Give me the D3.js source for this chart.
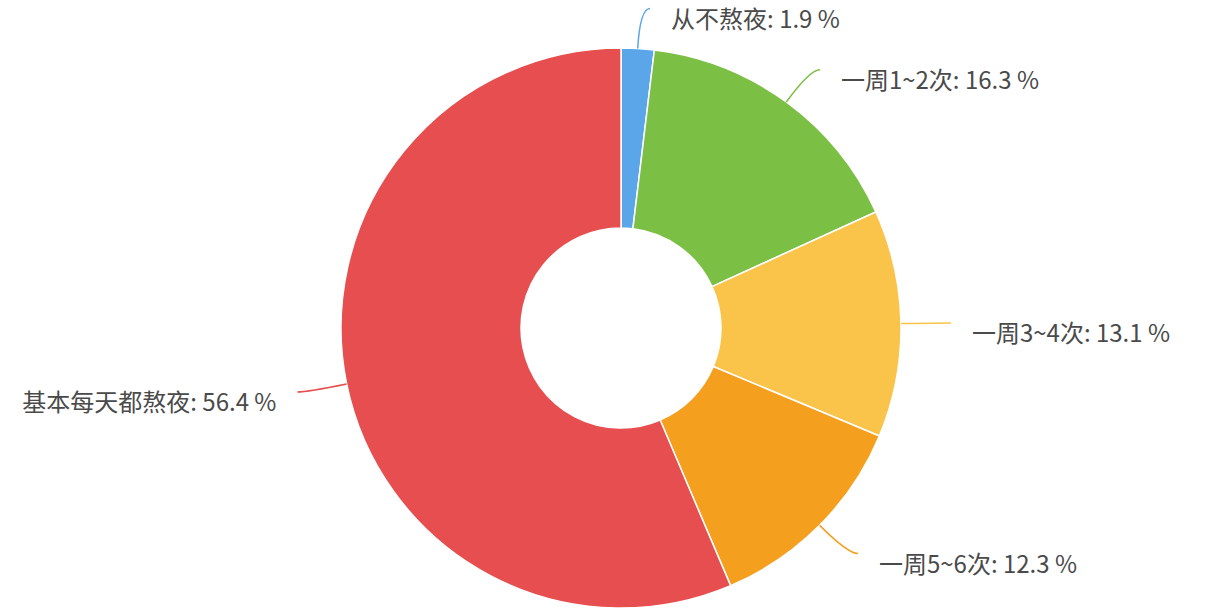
<!DOCTYPE html>
<html>
<head>
<meta charset="utf-8">
<script src="https://cdn.jsdelivr.net/npm/d3@7/dist/d3.min.js"></script>
<style>
  html, body { margin: 0; padding: 0; background: #fff; }
  svg { display: block; }
  text { font-family: "Noto Sans CJK SC", "Noto Sans", sans-serif; }
</style>
</head>
<body>
<svg id="chart" width="1207" height="609"></svg>
<script>
const categories = ["从不熬夜", "一周1~2次", "一周3~4次", "一周5~6次", "基本每天都熬夜"];
const values = [1.9, 16.3, 13.1, 12.3, 56.4];
const colors = ["#5aa6e8", "#7cbf45", "#f9c449", "#f59f1f", "#e64e4f"];

const width = 1207, height = 609;
const cx = 621, cy = 328, outerR = 280, innerR = 100, labelDist = 40;

const svg = d3.select("#chart");
const g = svg.append("g").attr("transform", `translate(${cx},${cy})`);

const data = categories.map((c, i) => ({ name: c, value: values[i], color: colors[i] }));
const pie = d3.pie().value(d => d.value).sort(null).startAngle(0).endAngle(2 * Math.PI);
const arcs = pie(data);
const arc = d3.arc().innerRadius(innerR).outerRadius(outerR);

g.selectAll("path.slice").data(arcs).enter().append("path")
  .attr("class", "slice")
  .attr("d", arc)
  .attr("fill", d => d.data.color)
  .attr("stroke", "#fff")
  .attr("stroke-width", 1.5)
  .attr("stroke-linejoin", "round");

function polar(r, a) { return [r * Math.sin(a), -r * Math.cos(a)]; }

const labels = g.selectAll("g.lbl").data(arcs).enter().append("g").attr("class", "lbl");
labels.each(function(d) {
  const mid = (d.startAngle + d.endAngle) / 2;
  const right = Math.sin(mid) >= 0;
  const e = polar(outerR, mid);
  const p = polar(outerR + labelDist, mid);
  const end = [p[0] + (right ? 10 : -10), p[1]];
  const sel = d3.select(this);
  sel.append("path")
    .attr("d", `M${e[0]},${e[1]} Q${p[0]},${p[1]} ${end[0]},${end[1]}`)
    .attr("fill", "none")
    .attr("stroke", d.data.color)
    .attr("stroke-width", 1.5);
  sel.append("text")
    .attr("x", end[0] + (right ? 21 : -21))
    .attr("y", end[1] + 11)
    .attr("dy", "0.35em")
    .attr("text-anchor", right ? "start" : "end")
    .attr("fill", "#4a4a4a")
    .attr("font-size", 24)
    .text(`${d.data.name}: ${d.data.value.toFixed(1)} %`);
});
</script>
</body>
</html>
